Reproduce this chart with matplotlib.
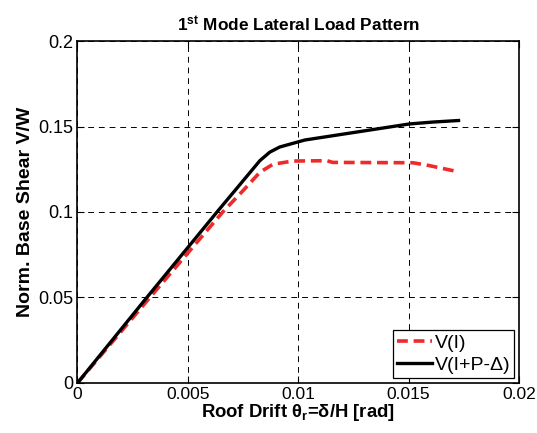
import matplotlib
matplotlib.use("Agg")
import matplotlib.pyplot as plt

plt.rcParams['font.family'] = ['Liberation Sans', 'DejaVu Sans']
plt.rcParams['mathtext.fontset'] = 'custom'
plt.rcParams['mathtext.rm'] = 'Liberation Sans'
plt.rcParams['mathtext.bf'] = 'Liberation Sans:bold'
plt.rcParams['mathtext.it'] = 'Liberation Sans:italic'

# Pushover curves (roof drift vs normalized base shear)
drift_i = [0.0, 0.00328, 0.00658, 0.0075, 0.00826, 0.00885, 0.00975, 0.0113,
           0.01156, 0.01518, 0.0158, 0.01722]
shear_i = [0.0, 0.05, 0.1, 0.1125, 0.1232, 0.1279, 0.1298, 0.1300,
           0.1290, 0.1288, 0.1275, 0.1236]

drift_pd = [0.0, 0.00314, 0.00632, 0.00826, 0.00871, 0.00916, 0.0103,
            0.01504, 0.0161, 0.01726]
shear_pd = [0.0, 0.05, 0.1, 0.130, 0.135, 0.138, 0.1421,
            0.1515, 0.1526, 0.1535]

x_ticks = [0, 0.005, 0.01, 0.015, 0.02]
x_labels = ['0', '0.005', '0.01', '0.015', '0.02']
y_ticks = [0, 0.05, 0.1, 0.15, 0.2]
y_labels = ['0', '0.05', '0.1', '0.15', '0.2']

fig = plt.figure(figsize=(5.37, 4.33), dpi=100)
ax = fig.add_axes([0.1443, 0.1155, 0.8222, 0.7898])

ax.plot(drift_i, shear_i, color='#ee2a2a', linestyle=(0, (3, 1.6)), linewidth=2.6,
        label='V(I)')
ax.plot(drift_pd, shear_pd, color='black', linewidth=2.4, label='V(I+P-Δ)')

ax.set_xlim(0, 0.02)
ax.set_ylim(0, 0.2)
ax.set_xticks(x_ticks)
ax.set_xticklabels(x_labels)
ax.set_yticks(y_ticks)
ax.set_yticklabels(y_labels)
ax.tick_params(direction='in', top=True, right=True, length=5, width=0.8)
ax.tick_params(axis='x', labelsize=12.5, pad=3)
ax.tick_params(axis='y', labelsize=13, pad=3)
ax.grid(True, color='black', linestyle=(0, (6, 5)), linewidth=0.7)
for s in ax.spines.values():
    s.set_linewidth(1.2)

ax.set_xlabel(r'Roof Drift θ$_\mathbf{r}$=δ/H [rad]', fontsize=13.3, fontweight='bold', labelpad=0)
ax.set_ylabel('Norm. Base Shear V/W', fontsize=14, fontweight='bold', labelpad=3)
ax.set_title(r'1$^{\mathbf{st}}$ Mode Lateral Load Pattern', fontsize=12.4,
             fontweight='bold', pad=7)

leg = ax.legend(loc='lower right', fontsize=14, fancybox=False, framealpha=1,
                edgecolor='black', borderaxespad=0.25, handlelength=1.8,
                handletextpad=0.15, borderpad=0.2, labelspacing=0.25)
leg.get_frame().set_linewidth(0.9)

fig.savefig('out.png', dpi=100)
